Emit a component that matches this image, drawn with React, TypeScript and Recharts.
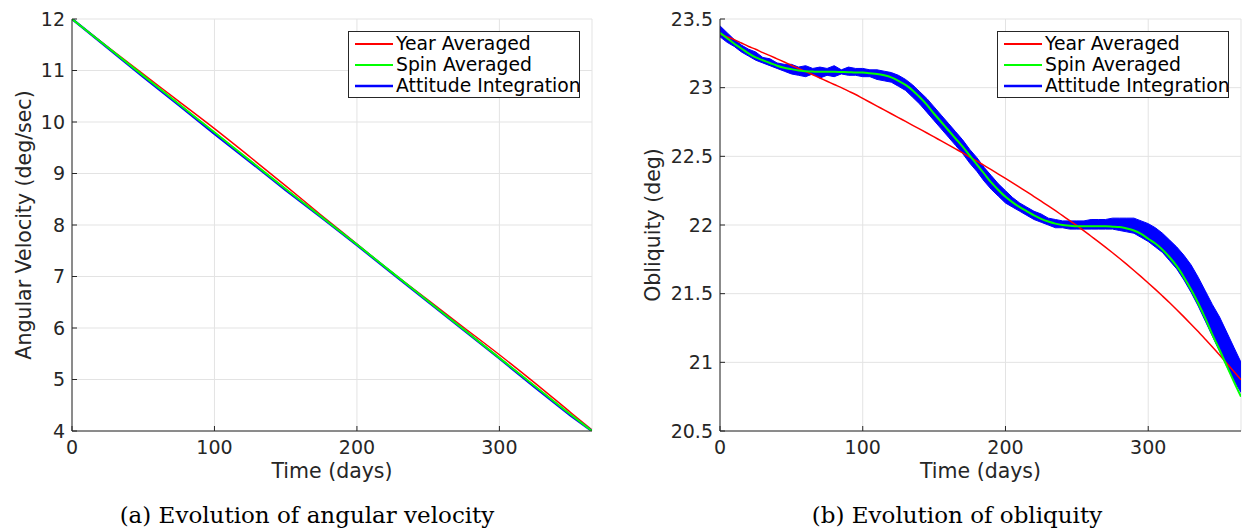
import React from 'react';
import { ComposedChart, Line, Area, XAxis, YAxis, CartesianGrid, Legend } from 'recharts';

const FONT = '"DejaVu Sans", sans-serif';
const SERIF = '"DejaVu Serif", serif';
const AXIS_COLOR = '#262626';
const GRID_COLOR = '#e3e3e3';

const seriesNames = ['Year Averaged', 'Spin Averaged', 'Attitude Integration'];
const seriesColors = ['#ff0000', '#00ff00', '#0000ff'];

const xTicks = [0, 100, 200, 300];
const velTicks = [4, 5, 6, 7, 8, 9, 10, 11, 12];
const oblTicks = [20.5, 21, 21.5, 22, 22.5, 23, 23.5];

// (a) angular velocity (deg/sec)
const velDays = [0, 25, 50, 75, 100, 125, 150, 175, 200, 225, 250, 275, 300, 325, 350, 365];
const velYear = [12.0, 11.46, 10.93, 10.4, 9.87, 9.32, 8.76, 8.19, 7.63, 7.07, 6.54, 6.01, 5.48, 4.93, 4.36, 4.02];
const velSpin = [12.0, 11.45, 10.9, 10.35, 9.8, 9.25, 8.7, 8.16, 7.62, 7.07, 6.52, 5.97, 5.42, 4.87, 4.32, 4.0];
const velAttitude = [12.0, 11.44, 10.88, 10.33, 9.77, 9.23, 8.68, 8.15, 7.61, 7.06, 6.51, 5.96, 5.41, 4.85, 4.3, 4.0];

// (b) obliquity (deg)
const oblDays = [
  0, 5, 10, 15, 20, 25, 30, 35, 40, 45,
  50, 55, 60, 65, 70, 75, 80, 85, 90, 95,
  100, 105, 110, 115, 120, 125, 130, 135, 140, 145,
  150, 155, 160, 165, 170, 175, 180, 185, 190, 195,
  200, 205, 210, 215, 220, 225, 230, 235, 240, 245,
  250, 255, 260, 265, 270, 275, 280, 285, 290, 295,
  300, 305, 310, 315, 320, 325, 330, 335, 340, 345,
  350, 355, 360, 365,
];
const oblYear = [
  23.39, 23.37, 23.35, 23.325, 23.3, 23.28, 23.255, 23.233, 23.21, 23.187,
  23.163, 23.14, 23.117, 23.094, 23.07, 23.047, 23.023, 23.0, 22.975, 22.95,
  22.922, 22.894, 22.866, 22.838, 22.81, 22.782, 22.754, 22.726, 22.698, 22.67,
  22.641, 22.612, 22.583, 22.554, 22.525, 22.495, 22.465, 22.434, 22.403, 22.371,
  22.339, 22.307, 22.274, 22.241, 22.207, 22.173, 22.139, 22.104, 22.068, 22.032,
  21.995, 21.957, 21.918, 21.879, 21.839, 21.798, 21.756, 21.713, 21.669, 21.624,
  21.578, 21.531, 21.483, 21.434, 21.383, 21.331, 21.278, 21.224, 21.168, 21.111,
  21.053, 20.994, 20.934, 20.873,
];
const oblSpin = [
  23.4, 23.36, 23.32, 23.285, 23.25, 23.22, 23.2, 23.18, 23.16, 23.145,
  23.135, 23.125, 23.12, 23.117, 23.115, 23.115, 23.115, 23.114, 23.113, 23.11,
  23.11, 23.105, 23.1, 23.09, 23.075, 23.05, 23.02, 22.98, 22.93, 22.875,
  22.81, 22.75, 22.69, 22.63, 22.57, 22.505, 22.44, 22.375, 22.31, 22.255,
  22.205, 22.165, 22.13, 22.1, 22.07, 22.045, 22.025, 22.01, 22.0, 21.995,
  21.99, 21.99, 21.99, 21.99, 21.99, 21.988, 21.985, 21.975, 21.96, 21.935,
  21.9, 21.865, 21.82, 21.765, 21.7, 21.62, 21.53, 21.43, 21.32, 21.2,
  21.09, 20.975, 20.86, 20.75,
];
const oblAttLow = [
  23.37, 23.33, 23.3, 23.26, 23.23, 23.2, 23.18, 23.16, 23.14, 23.12,
  23.1, 23.09, 23.08, 23.1, 23.07, 23.09, 23.08, 23.1, 23.09, 23.09,
  23.08, 23.08, 23.06, 23.05, 23.04, 23.01, 22.98, 22.93, 22.88, 22.82,
  22.76, 22.7, 22.64, 22.58, 22.52, 22.45, 22.39, 22.32, 22.26, 22.21,
  22.16, 22.13, 22.1, 22.07, 22.04, 22.02, 22.0, 21.98, 21.98, 21.97,
  21.97, 21.97, 21.97, 21.97, 21.97, 21.97, 21.96, 21.95, 21.94, 21.91,
  21.88, 21.84, 21.8, 21.74, 21.68, 21.6, 21.51, 21.41, 21.3, 21.19,
  21.08, 20.97, 20.87, 20.78,
];
const oblAttHigh = [
  23.45, 23.4, 23.35, 23.31, 23.28, 23.26, 23.22, 23.21, 23.18, 23.17,
  23.17, 23.15, 23.16, 23.14, 23.15, 23.14, 23.16, 23.13, 23.15, 23.14,
  23.14, 23.13, 23.13, 23.12, 23.11, 23.09, 23.06, 23.02, 22.97, 22.92,
  22.86, 22.8, 22.74, 22.68, 22.62, 22.55, 22.49, 22.42, 22.36, 22.3,
  22.25, 22.2, 22.16, 22.13, 22.1, 22.08, 22.05, 22.04, 22.03, 22.03,
  22.03, 22.03, 22.04, 22.04, 22.04, 22.05, 22.05, 22.05, 22.05, 22.03,
  22.01, 21.98, 21.94, 21.89, 21.84, 21.78, 21.71, 21.62, 21.52, 21.42,
  21.33, 21.22, 21.11, 21.0,
];

const velData = velDays.map((d, i) => ({ day: d, year: velYear[i], spin: velSpin[i], att: velAttitude[i] }));
const oblData = oblDays.map((d, i) => ({
  day: d,
  year: oblYear[i],
  spin: oblSpin[i],
  att: [oblAttLow[i], oblAttHigh[i]],
}));

const LegendBox = ({ boxWidth }: { boxWidth: number }) => (
  <div
    style={{
      boxSizing: 'border-box',
      width: boxWidth,
      height: 67,
      border: `1px solid ${AXIS_COLOR}`,
      background: '#fff',
      padding: '1px 0 0 6px',
      fontFamily: FONT,
      fontSize: 18.8,
      color: '#000',
      overflow: 'hidden',
    }}
  >
    {seriesNames.map((n, i) => (
      <div key={n} style={{ display: 'flex', alignItems: 'center', height: 21, whiteSpace: 'nowrap' }}>
        <svg width={38} height={4} style={{ flex: 'none' }}>
          <line x1={0} y1={2} x2={38} y2={2} stroke={seriesColors[i]} strokeWidth={i === 2 ? 2.5 : 2} />
        </svg>
        <span style={{ marginLeft: 3, lineHeight: '21px' }}>{n}</span>
      </div>
    ))}
  </div>
);

const tickStyle = { fill: AXIS_COLOR, fontSize: 19, fontFamily: FONT };

type PanelProps = {
  data: any[];
  width: number;
  yAxisWidth: number;
  marginRight: number;
  yDomain: [number, number];
  yTicks: number[];
  yLabel: string;
  yLabelOffset: number;
  legendLeft: number;
  legendWidth: number;
  band: boolean;
};

const Panel = (p: PanelProps) => (
  <ComposedChart
    width={p.width}
    height={531}
    data={p.data}
    margin={{ top: 19, right: p.marginRight, bottom: 51, left: 0 }}
  >
    <CartesianGrid stroke={GRID_COLOR} strokeWidth={1} />
    <XAxis
      dataKey="day"
      type="number"
      domain={[0, 365]}
      ticks={xTicks}
      interval={0}
      allowDataOverflow
      height={49}
      stroke={AXIS_COLOR}
      tickSize={-5}
      tickMargin={15}
      tick={tickStyle}
      label={{ value: 'Time (days)', position: 'insideBottom', offset: 2, fill: AXIS_COLOR, fontSize: 20.5, fontFamily: FONT }}
    />
    <XAxis
      xAxisId="top"
      orientation="top"
      type="number"
      domain={[0, 365]}
      ticks={xTicks}
      interval={0}
      allowDataOverflow
      height={0}
      stroke={AXIS_COLOR}
      tickSize={-5}
      tick={false}
    />
    <YAxis
      type="number"
      domain={p.yDomain}
      ticks={p.yTicks}
      interval={0}
      allowDataOverflow
      width={p.yAxisWidth}
      stroke={AXIS_COLOR}
      tickSize={-5}
      tickMargin={12}
      tick={tickStyle}
      label={{
        value: p.yLabel,
        angle: -90,
        position: 'insideLeft',
        offset: p.yLabelOffset,
        fill: AXIS_COLOR,
        fontSize: 20.5,
        fontFamily: FONT,
        style: { textAnchor: 'middle' },
      }}
    />
    <YAxis
      yAxisId="right"
      orientation="right"
      type="number"
      domain={p.yDomain}
      ticks={p.yTicks}
      interval={0}
      allowDataOverflow
      width={0}
      stroke={AXIS_COLOR}
      tickSize={-5}
      tick={false}
    />
    <Legend
      layout="horizontal"
      align="center"
      verticalAlign="middle"
      content={<LegendBox boxWidth={p.legendWidth} />}
      wrapperStyle={{ position: 'absolute', left: p.legendLeft, top: 31, width: p.legendWidth, height: 67 }}
    />
    <Line
      type="monotone"
      dataKey="year"
      name={seriesNames[0]}
      stroke={seriesColors[0]}
      strokeWidth={1.5}
      dot={false}
      isAnimationActive={false}
    />
    {p.band ? (
      <Area
        type="linear"
        dataKey="att"
        name={seriesNames[2]}
        stroke={seriesColors[2]}
        strokeWidth={1}
        fill={seriesColors[2]}
        fillOpacity={1}
        dot={false}
        activeDot={false}
        isAnimationActive={false}
      />
    ) : (
      <Line
        type="linear"
        dataKey="att"
        name={seriesNames[2]}
        stroke={seriesColors[2]}
        strokeWidth={2.5}
        dot={false}
        isAnimationActive={false}
      />
    )}
    <Line
      type="monotone"
      dataKey="spin"
      name={seriesNames[1]}
      stroke={seriesColors[1]}
      strokeWidth={2}
      dot={false}
      isAnimationActive={false}
    />
  </ComposedChart>
);

export default function App() {
  return (
    <div style={{ position: 'absolute', left: 0, top: 0, width: 1242, height: 531, background: '#fff', overflow: 'hidden' }}>
      <div style={{ position: 'absolute', left: 0, top: 0 }}>
        <Panel
          data={velData}
          width={621}
          yAxisWidth={72}
          marginRight={29}
          yDomain={[4, 12]}
          yTicks={velTicks}
          yLabel="Angular Velocity (deg/sec)"
          yLabelOffset={24}
          legendLeft={348}
          legendWidth={232}
          band={false}
        />
      </div>
      <div style={{ position: 'absolute', left: 620, top: 0 }}>
        <Panel
          data={oblData}
          width={622}
          yAxisWidth={100}
          marginRight={1}
          yDomain={[20.5, 23.5]}
          yTicks={oblTicks}
          yLabel="Obliquity (deg)"
          yLabelOffset={33}
          legendLeft={377}
          legendWidth={232}
          band={true}
        />
      </div>
      <svg width={1242} height={531} style={{ position: 'absolute', left: 0, top: 0, pointerEvents: 'none' }}>
        <text x={307} y={523} textAnchor="middle" fontFamily={SERIF} fontSize={23} fill="#000">
          (a) Evolution of angular velocity
        </text>
        <text x={957} y={523} textAnchor="middle" fontFamily={SERIF} fontSize={23} fill="#000">
          (b) Evolution of obliquity
        </text>
      </svg>
    </div>
  );
}
